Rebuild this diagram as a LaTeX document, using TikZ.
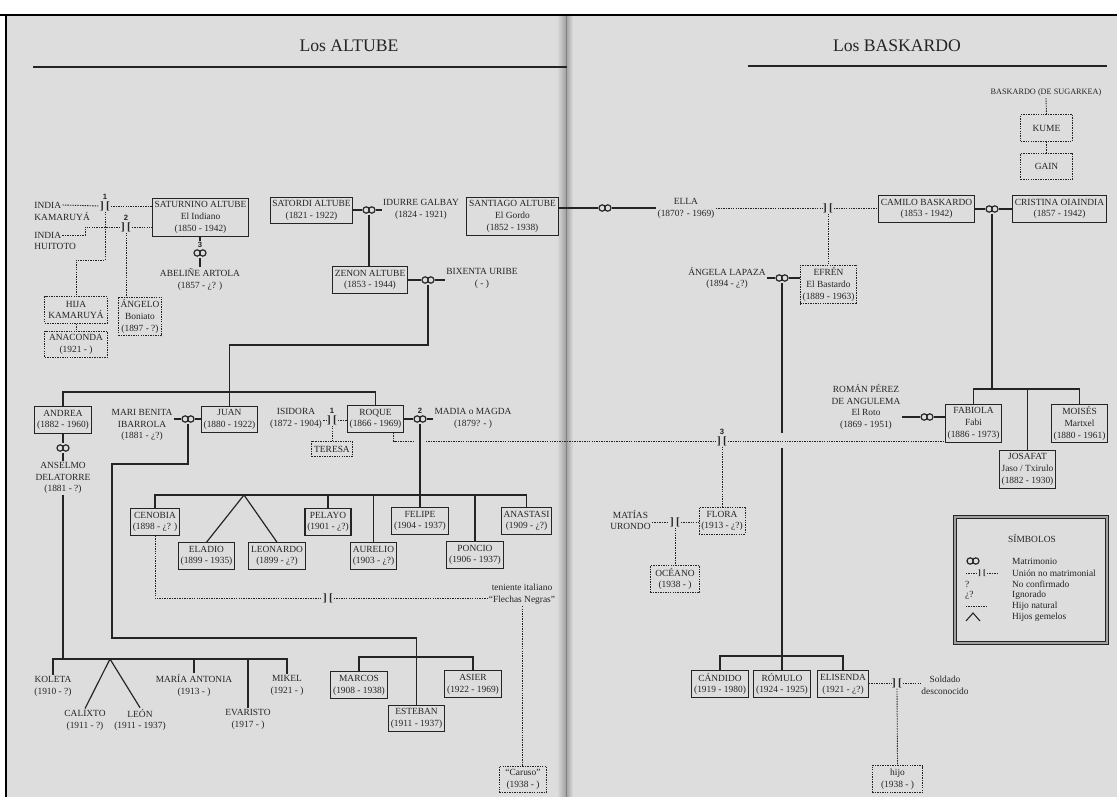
\documentclass[tikz,border=0pt]{standalone}
\usepackage{fontspec}
\setmainfont{Liberation Serif}
\setsansfont{Liberation Sans}
\usepackage{tikz}
\definecolor{ftPaper}{RGB}{221,221,221}
\definecolor{ftInk}  {RGB}{ 36, 36, 36}
\definecolor{ftSpine}{RGB}{160,160,160}
\newcommand{\Union}{]\kern1.8pt[}

\begin{document}
\begin{tikzpicture}[x=0.85pt,y=-0.85pt,
    every node/.style={font=\fontsize{8}{10}\selectfont,align=center,text=ftInk},
    pbox/.style={rectangle,draw=ftInk,line width=0.9pt,fill=ftPaper,
                 inner xsep=2pt,inner ysep=2pt,minimum height=22.5pt},
    tall/.style={minimum height=33pt},
    gbox/.style={pbox,line width=0.8pt,dash pattern=on 1.2pt off 0.9pt},
    who/.style={inner sep=1pt},
    kin/.style={draw=ftInk,line width=1pt},
    loose/.style={draw=ftInk,line width=0.75pt,dash pattern=on 1.2pt off 0.9pt},
    tie/.style={font=\fontsize{9.5}{9.5}\selectfont\bfseries,inner sep=0.6pt,fill=ftPaper},
    num/.style={font=\sffamily\bfseries\fontsize{6.5}{7}\selectfont,inner sep=0.5pt},
    wed/.style={rectangle,fill=ftPaper,minimum width=11.5pt,minimum height=8pt,inner sep=0pt,
      path picture={\draw[ftInk,line width=1pt]
        ([xshift=-2.4pt]path picture bounding box.center) circle[radius=2.7pt]
        ([xshift=2.4pt]path picture bounding box.center) circle[radius=2.7pt];}},
    ttl/.style={font=\fontsize{15}{18}\selectfont}
  ]
  \useasboundingbox (0,0) rectangle (1117,797);
  % page
  \fill[white] (0,0) rectangle (1117,797);
  \fill[ftPaper] (6,15) rectangle (1117,797);
  \shade[left color=ftPaper,right color=ftSpine] (557,15) rectangle (566,797);
  \shade[left color=ftSpine,right color=ftPaper] (566,15) rectangle (573,797);
  \draw[ftSpine!80!black,line width=0.6pt] (566,15) -- (566,797);
  \draw[line width=1.8pt] (0,15) -- (1117,15);
  \draw[line width=1.8pt] (6,15) -- (6,797);
  % titles
  \node[ttl] (tAltube) at (349,46) {Los ALTUBE};
  \node[ttl] (tBaskardo) at (897,46) {Los BASKARDO};
  \draw[ftInk,line width=1.4pt] (33,67) -- (567,67);
  \draw[ftInk,line width=1.4pt] (748,66) -- (1107,66);

  % Saturnino and his women
  \node[who,anchor=west] (ika) at (33,205) {INDIA};
  \node[who,anchor=west] (ikb) at (33,217) {KAMARUYÁ};
  \node[who,anchor=west] (iha) at (33,235) {INDIA};
  \node[who,anchor=west] (ihb) at (33,246) {HUITOTO};
  \node[tie,label={[num]above:1}] (u1) at (105,206) {\Union};
  \node[tie,label={[num]above:2}] (u2) at (126,227) {\Union};
  \node[pbox,tall] (saturnino) at (200.5,217.5) {SATURNINO ALTUBE\\El Indiano\\(1850 - 1942)};
  \node[wed,label={[num,name=n3]above:3}] (swed3) at (200,253) {};
  \node[who] (abeline) at (200,279.5) {ABELIÑE ARTOLA\\(1857 - ¿? )};
  \node[gbox,minimum width=53pt] (hija) at (76,310) {HIJA\\KAMARUYÁ};
  \node[gbox,minimum width=53pt] (anaconda) at (76,344.5) {ANACONDA\\(1921 - )};
  \node[gbox,tall] (angelo) at (140,316.5) {ÁNGELO\\Boniato\\(1897 - ?)};
  \coordinate (hbend) at (85,227);
  \coordinate (hjog) at (76,260);
  \draw[loose] (ika.east) -- (u1.west);
  \draw[loose] (u1.east) -- (saturnino.west |- u1);
  \draw[loose] (iha.east) -| (hbend) -- (u2.west);
  \draw[loose] (u2.east) -- (saturnino.west |- u2);
  \draw[loose] (u1.south) |- (hjog) -- (hija.north);
  \draw[loose] (u2.south) -- (u2.south |- angelo.north);
  \draw[loose] (hija.south) -- (anaconda.north);
  \draw[kin] (saturnino.south -| swed3) -- (n3.north);
  \draw[kin] (swed3) -- (abeline.north);

  % Satordi, Zenon, Santiago
  \node[pbox] (satordi) at (311.5,210.5) {SATORDI ALTUBE\\(1821 - 1922)};
  \node[wed] (swed) at (369,210) {};
  \node[who] (idurre) at (421,209.5) {IDURRE GALBAY\\(1824 - 1921)};
  \node[pbox] (zenon) at (370,280) {ZENON ALTUBE\\(1853 - 1944)};
  \node[wed] (zwed) at (428,280) {};
  \node[who] (bixenta) at (482,278.5) {BIXENTA URIBE\\( - )};
  \node[pbox,tall] (santiago) at (512.5,216.5) {SANTIAGO ALTUBE\\El Gordo\\(1852 - 1938)};
  \draw[kin] (satordi.east |- swed) -- (swed) -- (idurre.west |- swed);
  \draw[kin] (swed) -- (zenon.north -| swed);
  \draw[kin] (zenon.east) -- (zwed) -- (bixenta.west |- zwed);

  % Zenon's children
  \node[pbox] (andrea) at (63,420) {ANDREA\\(1882 - 1960)};
  \node[wed] (andwed) at (63,448) {};
  \node[who] (anselmo) at (63,478) {ANSELMO\\DELATORRE\\(1881 - ?)};
  \node[who] (mari) at (142,425) {MARI BENITA\\IBARROLA\\(1881 - ¿?)};
  \node[wed] (jwed) at (188,419) {};
  \node[pbox] (juan) at (229.5,419.5) {JUAN\\(1880 - 1922)};
  \node[who] (isidora) at (296,418.5) {ISIDORA\\(1872 - 1904)};
  \node[tie,label={[num]above:1}] (u3) at (332,420) {\Union};
  \node[gbox,minimum height=13.5pt] (teresa) at (332,449) {TERESA};
  \node[pbox] (roque) at (375.5,419) {ROQUE\\(1866 - 1969)};
  \node[wed,label={[num]above:2}] (rwed) at (420,419) {};
  \node[who] (madia) at (473,418.5) {MADIA o MAGDA\\(1879? - )};
  \coordinate (zjog) at (229.5,345);
  \coordinate (zbar) at (229.5,392);
  \draw[kin] (zwed) |- (zjog) -- (juan.north);
  \draw[kin] (andrea.north) |- (zbar) -| (roque.north);
  \draw[kin] (andrea.south) -- (andwed) -- (anselmo.north);
  \draw[kin] (mari.east |- jwed) -- (jwed) -- (juan.west |- jwed);
  \draw[loose] (isidora.east |- u3) -- (u3.west);
  \draw[loose] (u3.east) -- (roque.west |- u3);
  \draw[loose] (u3.south) -- (teresa.north);
  \draw[kin] (roque.east) -- (rwed) -- (madia.west |- rwed);

  % Roque's children
  \node[pbox] (cenobia) at (155,522) {CENOBIA\\(1898 - ¿? )};
  \node[pbox] (eladio) at (206.5,556) {ELADIO\\(1899 - 1935)};
  \node[pbox] (leonardo) at (277,556) {LEONARDO\\(1899 - ¿?)};
  \node[pbox] (pelayo) at (328,522) {PELAYO\\(1901 - ¿?)};
  \node[pbox] (aurelio) at (373.5,556) {AURELIO\\(1903 - ¿?)};
  \node[pbox] (felipe) at (420,521) {FELIPE\\(1904 - 1937)};
  \node[pbox] (poncio) at (475,555) {PONCIO\\(1906 - 1937)};
  \node[pbox] (anastasi) at (526.5,521) {ANASTASI\\(1909 - ¿?)};
  \coordinate (rbar) at (420,495);
  \coordinate (tw1) at (244,495);
  \draw[kin] (rwed) -- (felipe.north);
  \draw[kin] (cenobia.north) |- (rbar) -| (anastasi.north);
  \draw[kin] (eladio.north) -- (tw1) -- (leonardo.north);
  \draw[kin] (pelayo.north) -- (pelayo.north |- rbar);
  \draw[kin] (aurelio.north) -- (aurelio.north |- rbar);
  \draw[kin] (poncio.north) -- (poncio.north |- rbar);
  \node[tie] (u6) at (328,598) {\Union};
  \node[who] (teniente) at (522,594.5) {teniente italiano\\“Flechas Negras”};
  \node[gbox,minimum width=40pt] (caruso) at (523,779.5) {“Caruso”\\(1938 - )};
  \draw[loose] (cenobia.south) |- (u6.west);
  \draw[loose] (u6.east) -- (teniente.west |- u6);
  \draw[loose] (teniente.south) -- (teniente.south |- caruso.north);

  % Juan's children
  \node[pbox] (marcos) at (359,685) {MARCOS\\(1908 - 1938)};
  \node[pbox] (esteban) at (416.5,718.5) {ESTEBAN\\(1911 - 1937)};
  \node[pbox] (asier) at (473,684) {ASIER\\(1922 - 1969)};
  \coordinate (jj1) at (112,464);
  \coordinate (ebar) at (416.5,638);
  \coordinate (mbar) at (416.5,657);
  \draw[kin] (jwed) |- (jj1) |- (ebar) -- (esteban.north);
  \draw[kin] (marcos.north) |- (mbar) -| (asier.north);

  % Andrea's children
  \node[who] (koleta) at (53,686.5) {KOLETA\\(1910 - ?)};
  \node[who] (calixto) at (85,720) {CALIXTO\\(1911 - ?)};
  \node[who] (leon) at (140,720) {LEÓN\\(1911 - 1937)};
  \node[who] (mariaa) at (194,685.5) {MARÍA ANTONIA\\(1913 - )};
  \node[who] (evaristo) at (248,719) {EVARISTO\\(1917 - )};
  \node[who] (mikel) at (287,685.5) {MIKEL\\(1921 - )};
  \coordinate (kbar) at (63,659);
  \coordinate (tw2) at (110,659);
  \draw[kin] (anselmo.south) -- (kbar);
  \draw[kin] (koleta.north) |- (kbar) -| (mikel.north);
  \draw[kin] (calixto.north) -- (tw2) -- (leon.north);
  \draw[kin] (mariaa.north) -- (mariaa.north |- kbar);
  \draw[kin] (evaristo.north) -- (evaristo.north |- kbar);

  % Baskardo line
  \node[who,font=\fontsize{7}{8}\selectfont] (baskardo) at (1046,93) {BASKARDO (DE SUGARKEA)};
  \node[gbox,minimum width=44pt] (kume) at (1046.5,128) {KUME};
  \node[gbox,minimum width=44pt] (gain) at (1046.5,166.5) {GAIN};
  \draw[loose] (baskardo.south) -- (kume.north);
  \draw[loose] (kume.south) -- (gain.north);
  \node[wed] (sawed) at (605,208) {};
  \node[who] (ella) at (686,208.5) {ELLA\\(1870? - 1969)};
  \node[tie] (u4) at (828,208) {\Union};
  \node[pbox] (camilo) at (926.5,209) {CAMILO BASKARDO\\(1853 - 1942)};
  \node[wed] (cwed) at (992,209) {};
  \node[pbox] (cristina) at (1059.5,209) {CRISTINA OIAINDIA\\(1857 - 1942)};
  \draw[kin] (santiago.east |- sawed) -- (sawed) -- (ella.west |- sawed);
  \draw[loose] (ella.east |- sawed) -- (u4.west);
  \draw[loose] (u4.east) -- (camilo.west |- u4);
  \draw[kin] (camilo.east) -- (cwed) -- (cristina.west);
  \node[gbox,tall] (efren) at (828.5,284.5) {EFRÉN\\El Bastardo\\(1889 - 1963)};
  \node[who] (angela) at (727,278) {ÁNGELA LAPAZA\\(1894 - ¿?)};
  \node[wed] (anwed) at (782,278) {};
  \draw[loose] (u4.south) -- (u4.south |- efren.north);
  \draw[kin] (angela.east |- anwed) -- (anwed) -- (efren.west |- anwed);

  % Camilo's children
  \coordinate (bbar) at (992,389);
  \node[pbox,tall] (fabiola) at (973.5,423.5) {FABIOLA\\Fabi\\(1886 - 1973)};
  \node[pbox,tall] (moises) at (1079.5,423.5) {MOISÉS\\Martxel\\(1880 - 1961)};
  \node[pbox,tall] (josafat) at (1027.5,469.5) {JOSAFAT\\Jaso / Txirulo\\(1882 - 1930)};
  \node[who] (roman) at (866,407) {ROMÁN PÉREZ\\DE ANGULEMA\\El Roto\\(1869 - 1951)};
  \node[wed] (fwed) at (927,417) {};
  \draw[kin] (cwed) -- (bbar);
  \draw[kin] (fabiola.north) |- (bbar) -| (moises.north);
  \draw[kin] (josafat.north) -- (josafat.north |- bbar);
  \draw[kin] (roman.east |- fwed) -- (fwed) -- (fabiola.west |- fwed);

  % Roque and Fabiola
  \node[tie,label={[num]above:3}] (u8) at (722,441) {\Union};
  \coordinate (gl) at (414,441);
  \coordinate (gr) at (426,441);
  \draw[loose] ([xshift=-9pt]roque.south east) |- (gl);
  \draw[loose] (gr) -- (u8.west);
  \draw[loose] (u8.east) -- (fabiola.west |- u8);
  \node[gbox] (flora) at (722,521) {FLORA\\(1913 - ¿?)};
  \node[who,anchor=east] (matias) at (652,520) {MATÍAS\\URONDO};
  \node[tie] (u5) at (675,522) {\Union};
  \node[gbox,minimum width=42pt] (oceano) at (675,579) {OCÉANO\\(1938 - )};
  \draw[loose] (u8.south) -- (flora.north);
  \draw[loose] (matias.east |- u5) -- (u5.west);
  \draw[loose] (u5.east) -- (flora.west |- u5);
  \draw[loose] (u5.south) -- (oceano.north);

  % Angela's children
  \node[pbox] (candido) at (720,684) {CÁNDIDO\\(1919 - 1980)};
  \node[pbox] (romulo) at (782,684) {RÓMULO\\(1924 - 1925)};
  \node[pbox] (elisenda) at (843,684) {ELISENDA\\(1921 - ¿?)};
  \coordinate (ag1) at (782,433);
  \coordinate (ag2) at (782,448);
  \coordinate (cbar) at (782,656);
  \draw[kin] (anwed) -- (ag1);
  \draw[kin] (ag2) -- (romulo.north);
  \draw[kin] (candido.north) |- (cbar) -| (elisenda.north);
  \node[tie] (u7) at (897,683) {\Union};
  \node[who] (soldado) at (945,685.5) {Soldado\\desconocido};
  \node[gbox,minimum width=43pt] (hijo) at (897.5,779) {hijo\\(1938 - )};
  \draw[loose] (elisenda.east |- u7) -- (u7.west);
  \draw[loose] (u7.east) -- (soldado.west |- u7);
  \draw[loose] (u7.south) -- (hijo.north);

  % Legend
  \draw[ftInk,line width=0.8pt,double=ftSpine,double distance=1.4pt] (955,517) rectangle (1107,643);
  \node (lgHead) at (1032,539) {SÍMBOLOS};
  \node[wed] (lgWed) at (973,561) {};
  \node[tie,font=\fontsize{7}{7}\selectfont\bfseries] (lgTie) at (982,573) {\Union};
  \draw[loose] (966,573) -- (lgTie.west);
  \draw[loose] (lgTie.east) -- (998,573);
  \node[anchor=west,inner sep=0pt] (lgQ) at (965,584) {?};
  \node[anchor=west,inner sep=0pt] (lgIQ) at (965,595) {¿?};
  \draw[loose] (966,606) -- (986,606);
  \draw[ftInk,line width=0.9pt] (966,621) -- (973,613) -- (980,621);
  \node[anchor=west] (lgT1) at (1008,561) {Matrimonio};
  \node[anchor=west] (lgT2) at (1008,573) {Unión no matrimonial};
  \node[anchor=west] (lgT3) at (1008,584) {No confirmado};
  \node[anchor=west] (lgT4) at (1008,595) {Ignorado};
  \node[anchor=west] (lgT5) at (1008,606) {Hijo natural};
  \node[anchor=west] (lgT6) at (1008,617) {Hijos gemelos};
\end{tikzpicture}
\end{document}
